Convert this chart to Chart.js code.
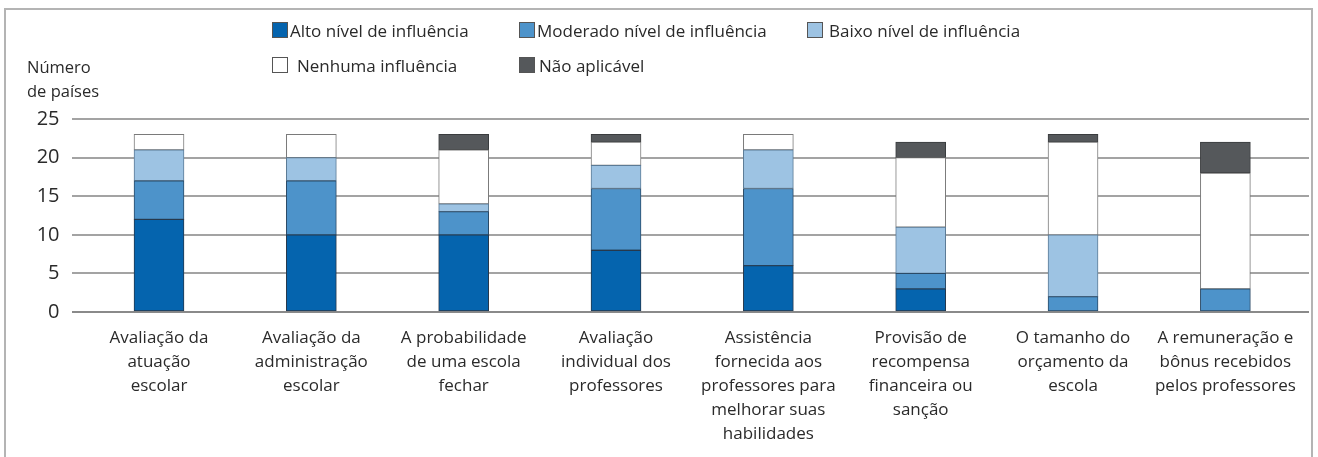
<!DOCTYPE html>
<html>
<head>
<meta charset="utf-8">
<script src="https://cdn.jsdelivr.net/npm/chart.js@4.4.1/dist/chart.umd.min.js"></script>
<style>
  html, body { margin: 0; padding: 0; background: #fff; }
  body { width: 1318px; height: 457px; position: relative; overflow: hidden;
         font-family: "Open Sans", "Noto Sans", sans-serif; color: #333; }
  #frame { position: absolute; left: 4px; top: 8px; width: 1309px; height: 470px;
           border: 2px solid #b4b4b4; border-bottom: none; box-sizing: border-box; }
  #chartBox { position: absolute; left: 0; top: 0; width: 1318px; height: 457px; }
  #yTitle { position: absolute; left: 27px; top: 55px; font-size: 16.5px; line-height: 24px; color: #2a2a2a; }
  .legend-item { position: absolute; display: flex; align-items: center; font-size: 17px; color: #2a2a2a;
                 white-space: nowrap; height: 20px; }
  .legend-item span.box { width: 14px; height: 14px; border: 1px solid #555; margin-right: 2px; }
</style>
</head>
<body>
<div id="frame"></div>
<div id="chartBox"><canvas id="influenceChart"></canvas></div>
<div id="yTitle">Número<br>de países</div>
<div id="legend"></div>
<script>
// Categories (x axis), one entry per bar, split into lines
const categories = [
  ["Avaliação da", "atuação", "escolar"],
  ["Avaliação da", "administração", "escolar"],
  ["A probabilidade", "de uma escola", "fechar"],
  ["Avaliação", "individual dos", "professores"],
  ["Assistência", "fornecida aos", "professores para", "melhorar suas", "habilidades"],
  ["Provisão de", "recompensa", "financeira ou", "sanção"],
  ["O tamanho do", "orçamento da", "escola"],
  ["A remuneração e", "bônus recebidos", "pelos professores"]
];

// Number of countries per influence level
const altoNivel = [12, 10, 10, 8, 6, 3, 0, 0];
const moderadoNivel = [5, 7, 3, 8, 10, 2, 2, 3];
const baixoNivel = [4, 3, 1, 3, 5, 6, 8, 0];
const nenhumaInfluencia = [2, 3, 7, 3, 2, 9, 12, 15];
const naoAplicavel = [0, 0, 2, 1, 0, 2, 1, 4];

const yTicks = [0, 5, 10, 15, 20, 25];

const seriesLabels = [
  "Alto nível de influência",
  "Moderado nível de influência",
  "Baixo nível de influência",
  "Nenhuma influência",
  "Não aplicável"
];
const seriesColors = ["#0564ae", "#4d93ca", "#9dc3e3", "#ffffff", "#55585b"];
const seriesBorders = ["#26384c", "#2b4a66", "#5b7a95", "#7a7a7a", "#3a3c3e"];
const seriesValues = [altoNivel, moderadoNivel, baixoNivel, nenhumaInfluencia, naoAplicavel];

// zero-height segments are left out so they don't draw a stray border line
const toPoints = (values) => values.map((v, i) => ({ x: i, y: v === 0 ? null : v }));

const datasets = seriesValues.map((values, k) => ({
  label: seriesLabels[k],
  data: toPoints(values),
  backgroundColor: seriesColors[k],
  borderColor: seriesBorders[k],
  borderWidth: 1,
  borderSkipped: false,
  barThickness: 50
}));

const ctx = document.getElementById("influenceChart").getContext("2d");
const chart = new Chart(ctx, {
  type: "bar",
  data: { datasets: datasets },
  options: {
    responsive: true,
    maintainAspectRatio: false,
    animation: false,
    layout: { padding: { left: 10, top: 119, right: 9, bottom: 0 } },
    plugins: {
      legend: { display: false },
      tooltip: { enabled: false }
    },
    scales: {
      x: {
        type: "linear",
        stacked: true,
        offset: false,
        min: -0.5744,
        max: 7.549,
        grid: { display: false },
        border: { display: false },
        afterBuildTicks: (scale) => {
          scale.ticks = categories.map((_, i) => ({ value: i }));
        },
        afterFit: (scale) => { scale.height = 145; },
        ticks: {
          autoSkip: false,
          maxRotation: 0,
          padding: 6,
          color: "#2a2a2a",
          font: { family: "Open Sans", size: 17, lineHeight: 1.41 },
          callback: (value) => categories[value]
        }
      },
      y: {
        stacked: true,
        min: 0,
        max: 25,
        afterBuildTicks: (scale) => {
          scale.ticks = yTicks.map((v) => ({ value: v }));
        },
        afterFit: (scale) => { scale.width = 61.5; },
        grid: {
          color: (c) => (c.tick && c.tick.value === 0 ? "#8a8a8a" : "#a3a3a3"),
          lineWidth: 2,
          drawTicks: false
        },
        border: { display: false },
        ticks: {
          padding: 12,
          color: "#2a2a2a",
          font: { family: "Open Sans", size: 20 }
        }
      }
    }
  }
});

// HTML legend laid out in two rows of fixed columns, like the original
const legendPlaces = [
  { left: 272, top: 20, gap: 2 },
  { left: 519, top: 20, gap: 2 },
  { left: 807, top: 20, gap: 6 },
  { left: 272, top: 55, gap: 9 },
  { left: 519, top: 55, gap: 4 }
];
const legendBox = document.getElementById("legend");
chart.data.datasets.forEach((ds, k) => {
  const item = document.createElement("div");
  item.className = "legend-item";
  item.style.left = legendPlaces[k].left + "px";
  item.style.top = legendPlaces[k].top + "px";
  item.innerHTML = `<span class="box" style="background:${ds.backgroundColor};margin-right:${legendPlaces[k].gap}px"></span>${ds.label}`;
  legendBox.appendChild(item);
});
</script>
</body>
</html>
